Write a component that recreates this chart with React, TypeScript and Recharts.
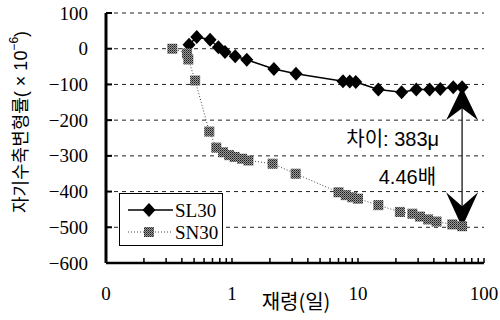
import React from 'react';
import { ScatterChart, Scatter, XAxis, YAxis, CartesianGrid, ReferenceLine, Legend } from 'recharts';

const sl30Age = [0.456, 0.525, 0.67, 0.78, 0.88, 1.06, 1.31, 2.15, 3.22, 7.6, 8.6, 9.6, 14.5, 22.2, 29, 37, 45, 57, 67];
const sl30Strain = [11, 33, 25, 4, -9, -21, -31, -57, -70, -91, -92, -93, -114, -122, -114, -114, -113, -108, -108];
const sn30Age = [0.336, 0.44, 0.45, 0.51, 0.66, 0.75, 0.85, 0.95, 1.05, 1.2, 1.35, 2.1, 3.2, 7.0, 8.0, 9.0, 10.0, 14.5, 21.5, 27, 31, 36, 42, 56, 67];
const sn30Strain = [0, -13, -30, -89, -232, -277, -290, -298, -303, -308, -313, -322, -350, -402, -410, -416, -420, -438, -457, -462, -470, -478, -484, -492, -497];

const xTicks = [0.1, 0.2, 0.3, 0.4, 0.5, 0.6, 0.7, 0.8, 0.9, 1, 2, 3, 4, 5, 6, 7, 8, 9, 10, 20, 30, 40, 50, 60, 70, 80, 90, 100];
const xMajorLabels: Record<string, string> = { '0.1': '0', '1': '1', '10': '10', '100': '100' };
const yTicks = [-600, -500, -400, -300, -200, -100, 0, 100];

const arrowAge = 67;
const arrowTop = -108;
const arrowBottom = -500;
const diffText = '차이: 383μ';
const ratioText = '4.46배';

const sl30 = sl30Age.map((x, i) => ({ x, y: sl30Strain[i] }));
const sn30 = sn30Age.map((x, i) => ({ x, y: sn30Strain[i] }));

const SERIF = '"Liberation Serif", "DejaVu Serif", serif';
const SANS = '"Liberation Sans", "Noto Sans CJK KR", sans-serif';
const KR = '"Noto Sans CJK KR", "Liberation Sans", sans-serif';

const diamond = (cx: number, cy: number, key?: any) => (
  <polygon key={key} points={`${cx},${cy - 7} ${cx + 6.5},${cy} ${cx},${cy + 7} ${cx - 6.5},${cy}`} fill="#000" />
);

const square = (cx: number, cy: number) => (
  <g>
    <defs>
      <pattern id="halftone" width="2" height="2" patternUnits="userSpaceOnUse">
        <rect x="0" y="0" width="2" height="2" fill="#9a9a9a" />
        <rect x="0" y="0" width="1" height="1" fill="#1a1a1a" />
        <rect x="1" y="1" width="1" height="1" fill="#4a4a4a" />
      </pattern>
    </defs>
    <rect x={cx - 5} y={cy - 5} width={10} height={10} fill="url(#halftone)" />
  </g>
);

const DiamondShape = (p: any) => diamond(p.cx, p.cy);
const SquareShape = (p: any) => square(p.cx, p.cy);

const XTick = (p: any) => {
  const { x, y, payload } = p;
  const lbl = xMajorLabels[String(payload.value)];
  return (
    <g>
      <line x1={x} x2={x} y1={y} y2={y - 5} stroke="#000" strokeWidth={1.5} />
      {lbl !== undefined && (
        <text x={x} y={y + 30} textAnchor="middle" dominantBaseline="central" fontFamily={SERIF} fontSize={19} fill="#000">
          {lbl}
        </text>
      )}
    </g>
  );
};

const YTick = (p: any) => {
  const { x, y, payload } = p;
  const v = payload.value as number;
  const s = v < 0 ? '\u2212' + Math.abs(v) : String(v);
  return (
    <g>
      <line x1={x} x2={x + 6} y1={y} y2={y} stroke="#000" strokeWidth={2} />
      <text x={x - 18} y={y} textAnchor="end" dominantBaseline="central" fontFamily={SERIF} fontSize={19} fill="#000">
        {s}
      </text>
    </g>
  );
};

const ArrowShape = (p: any) => {
  const { x1, y1, y2 } = p;
  const x = x1;
  const top = Math.min(y1, y2);
  const bot = Math.max(y1, y2);
  return (
    <g>
      <line x1={x} x2={x} y1={top + 20} y2={bot - 20} stroke="#000" strokeWidth={1.2} />
      <polygon points={`${x},${top} ${x + 16},${top + 33} ${x},${top + 21} ${x - 16},${top + 33}`} fill="#000" />
      <polygon points={`${x},${bot} ${x + 16},${bot - 35} ${x},${bot - 21} ${x - 16},${bot - 35}`} fill="#000" />
      <text x={x - 23} y={top + 59} textAnchor="end" fontFamily={SANS} fontSize={20} fill="#000">{diffText}</text>
      <text x={x - 26} y={top + 97} textAnchor="end" fontFamily={SANS} fontSize={20} fill="#000">{ratioText}</text>
    </g>
  );
};

const renderLegend = (props: any) => {
  const payload = props.payload || [];
  return (
    <div style={{ width: 104, height: 53, border: '1px solid #000', background: '#fff', boxSizing: 'border-box' }}>
      <svg width={102} height={51} style={{ display: 'block' }}>
        {payload.map((e: any, i: number) => {
          const y = 16 + i * 22;
          const isSL = e.value === 'SL30';
          return (
            <g key={i}>
              <line x1={8} x2={53} y1={y} y2={y} stroke={isSL ? '#000' : '#444'} strokeWidth={isSL ? 1.5 : 1} strokeDasharray={isSL ? undefined : '1 2'} />
              {isSL ? diamond(29, y) : square(29, y)}
              <text x={55} y={y} dominantBaseline="central" fontFamily={SERIF} fontSize={19} fill="#000">{e.value}</text>
            </g>
          );
        })}
      </svg>
    </div>
  );
};

export default function App() {
  return (
    <div style={{ position: 'absolute', left: 0, top: 0, width: 500, height: 320, background: '#fff' }}>
      <ScatterChart width={500} height={320} margin={{ top: 13, right: 16, bottom: 0, left: 0 }}>
        <CartesianGrid vertical={false} stroke="#222" strokeDasharray="4 4" strokeWidth={1} />
        <XAxis
          type="number"
          dataKey="x"
          scale="log"
          domain={[0.1, 100]}
          allowDataOverflow
          ticks={xTicks}
          interval={0}
          tickSize={0}
          tickMargin={0}
          tickLine={false}
          tick={<XTick />}
          height={57}
          axisLine={{ stroke: '#000', strokeWidth: 2.5 }}
          label={{
            content: () => (
              <text x={296} y={300} textAnchor="middle" dominantBaseline="central" fontFamily={KR} fontSize={20} fill="#000">
                재령(일)
              </text>
            ),
          }}
        />
        <YAxis
          type="number"
          dataKey="y"
          domain={[-600, 100]}
          ticks={yTicks}
          interval={0}
          tickSize={0}
          tickMargin={0}
          tickLine={false}
          tick={<YTick />}
          width={106}
          axisLine={{ stroke: '#000', strokeWidth: 3 }}
          label={{
            content: () => (
              <text x={21} y={122} transform="rotate(-90 21 122)" textAnchor="middle" dominantBaseline="central" fontFamily={SANS} fontSize={18} fill="#000">
                자기수축변형률( × 10<tspan dy={-7} fontSize={12}>−6</tspan><tspan dy={7}>)</tspan>
              </text>
            ),
          }}
        />
        <Legend
          layout="horizontal"
          verticalAlign="middle"
          align="center"
          wrapperStyle={{ left: 119, top: 193, width: 104, height: 53 }}
          content={renderLegend}
        />
        <Scatter name="SL30" data={sl30} fill="#000" shape={DiamondShape} line={{ stroke: '#000', strokeWidth: 1.5 }} lineType="joint" isAnimationActive={false} />
        <Scatter name="SN30" data={sn30} fill="#888" shape={SquareShape} line={{ stroke: '#444', strokeWidth: 1, strokeDasharray: '1 2' }} lineType="joint" isAnimationActive={false} />
        <ReferenceLine segment={[{ x: arrowAge, y: arrowTop }, { x: arrowAge, y: arrowBottom }]} shape={ArrowShape} />
      </ScatterChart>
    </div>
  );
}
